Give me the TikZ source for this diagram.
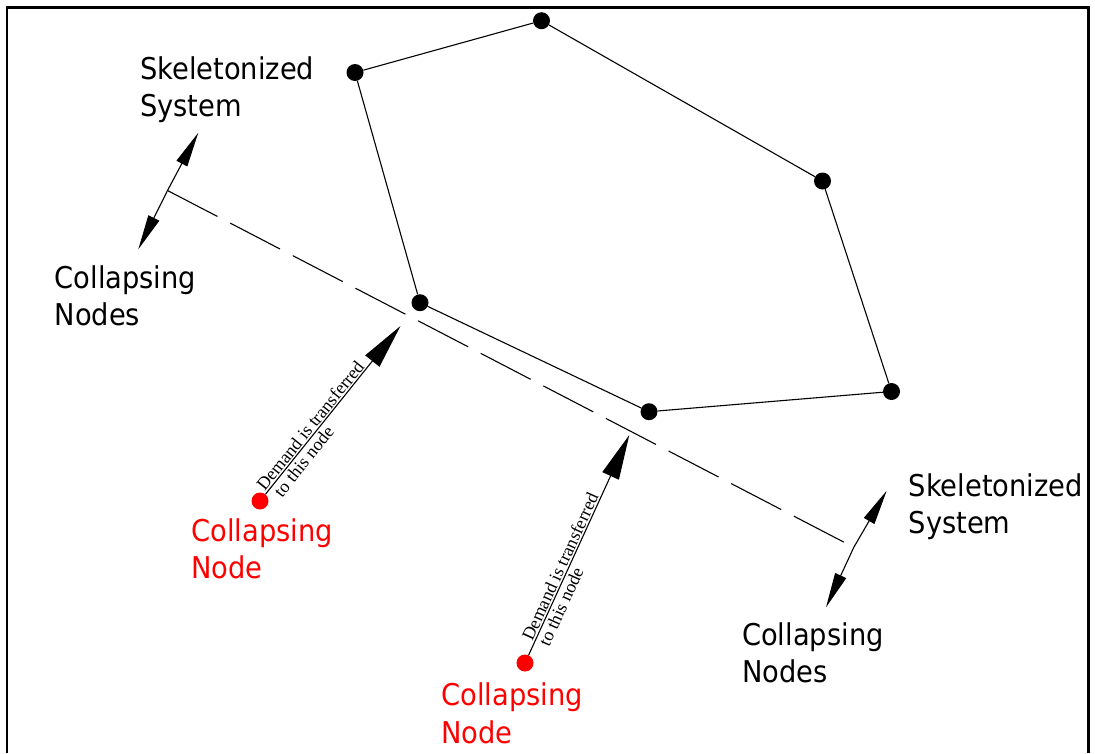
\documentclass[tikz,border=0pt]{standalone}
\usepackage{fontspec}
\usetikzlibrary{arrows.meta,calc}
\newfontfamily\labfont[FakeStretch=0.91]{DejaVu Sans}
\newfontfamily\dfont{Liberation Serif}
\tikzset{
  blackdot/.style={circle, fill=black, inner sep=0pt, minimum size=17pt},
  reddot/.style={blackdot, fill=red},
  link/.style={line width=1.1pt},
  lab/.style={anchor=base west, inner sep=0pt, font=\labfont\fontsize{30}{36}\selectfont},
  rlab/.style={lab, text=red},
  demand/.style={anchor=base west, inner sep=0pt, font=\dfont\fontsize{18}{18}\selectfont},
  dashline/.style={line width=1.1pt, dash pattern=on 56.3pt off 14.3pt},
  tickarrow/.style={line width=1.1pt, -{Triangle[length=35pt,width=12pt]}},
  demandarrow/.style={line width=1.1pt, -{Triangle[length=45pt,width=18pt]}},
  frameline/.style={line width=2.6pt, line join=miter}
}
\begin{document}
\begin{tikzpicture}[x=1pt,y=-1pt]
\useasboundingbox (0,0) rectangle (1095,753);
% frame
\coordinate (f1) at (7,753);
\coordinate (f2) at (7,7.3);
\coordinate (f3) at (1088.3,7.3);
\coordinate (f4) at (1088.3,753);
\draw[frameline] (f1) -- (f2) -- (f3) -- (f4);
% skeleton nodes
\node[blackdot] (A) at (355,72.5) {};
\node[blackdot] (B) at (541.5,20.7) {};
\node[blackdot] (C) at (822.5,181) {};
\node[blackdot] (D) at (891.5,391.5) {};
\node[blackdot] (E) at (649,411.7) {};
\node[blackdot] (F) at (420,302.7) {};
\draw[link] (A) -- (B) -- (C) -- (D) -- (E) -- (F) -- (A);
% collapsing nodes
\node[reddot] (R1) at (260,501) {};
\node[reddot] (R2) at (525,663) {};
% boundary line with ticks
\coordinate (J1) at (167.5,190.5);
\coordinate (LU) at (198.3,132.7);
\coordinate (LD) at (138.3,249.3);
\coordinate (J2) at (853.8,547.3);
\coordinate (RU) at (886.7,490.7);
\coordinate (RD) at (826,607.3);
\draw[dashline] (J1) -- (J2);
\draw[tickarrow] (J1) -- (LU);
\draw[tickarrow] (J1) -- (LD);
\draw[tickarrow] (J2) -- (RU);
\draw[tickarrow] (J2) -- (RD);
% demand arrows
\coordinate (T1) at (400.5,326);
\coordinate (T2) at (629.3,435);
\draw[demandarrow] (R1) -- (T1);
\draw[demandarrow] (R2) -- (T2);
\coordinate (a1) at ($(R1)!10pt!(T1)$);
\coordinate (b1) at ($(R1)!16pt!(T1)$);
\coordinate (a2) at ($(R2)!22pt!(T2)$);
\coordinate (b2) at ($(R2)!24pt!(T2)$);
\node[demand, rotate=51.2] (d1a) at ($(a1)!2pt!90:(T1)$) {Demand is transferred};
\node[demand, rotate=51.2] (d1b) at ($(b1)!15.5pt!-90:(T1)$) {to this node};
\node[demand, rotate=65.45] (d2a) at ($(a2)!2pt!90:(T2)$) {Demand is transferred};
\node[demand, rotate=65.45] (d2b) at ($(b2)!15.5pt!-90:(T2)$) {to this node};
% labels
\node[lab] (s1a) at (140,79.5) {Skeletonized};
\node[lab] (s1b) at (140,116) {System};
\node[lab] (c1a) at (54.5,288) {Collapsing};
\node[lab] (c1b) at (54.5,325) {Nodes};
\node[lab] (s2a) at (908.5,496.7) {Skeletonized};
\node[lab] (s2b) at (908.5,533) {System};
\node[lab] (c2a) at (742,645) {Collapsing};
\node[lab] (c2b) at (742,682.3) {Nodes};
\node[rlab] (r1a) at (191.2,541.7) {Collapsing};
\node[rlab] (r1b) at (191.2,578.3) {Node};
\node[rlab] (r2a) at (441.2,705) {Collapsing};
\node[rlab] (r2b) at (441.2,743) {Node};
\end{tikzpicture}
\end{document}
